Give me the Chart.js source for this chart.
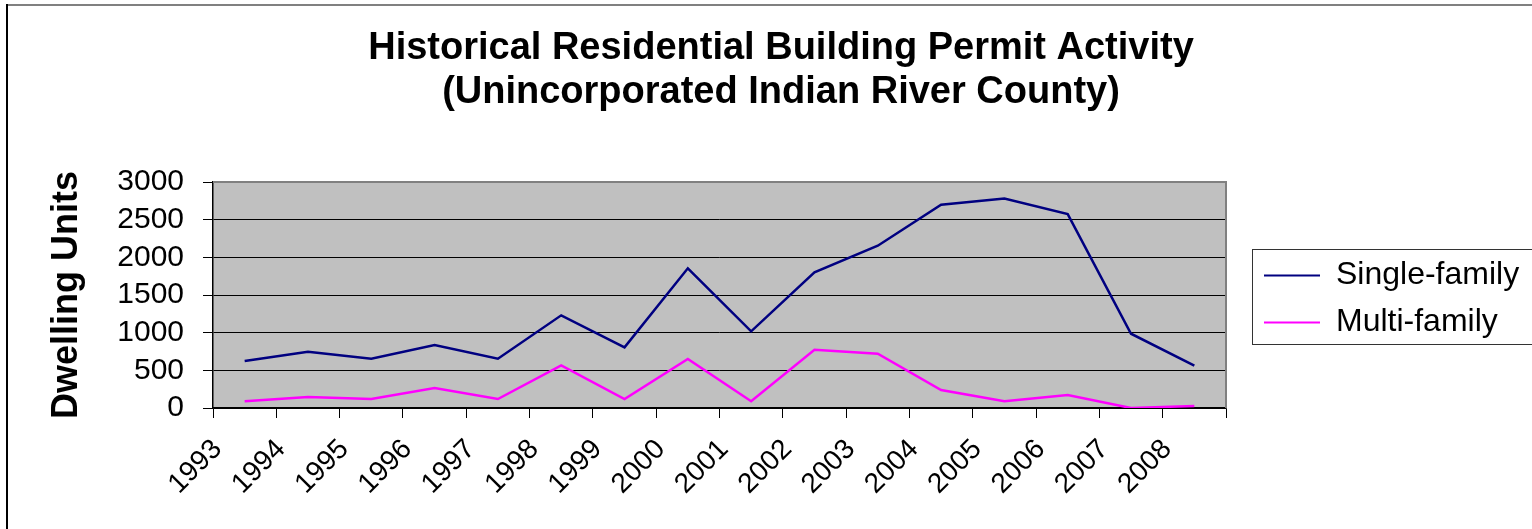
<!DOCTYPE html>
<html><head><meta charset="utf-8">
<script src="https://cdn.jsdelivr.net/npm/chart.js@4/dist/chart.umd.min.js"></script>
<style>html,body{margin:0;padding:0;background:#fff;overflow:hidden}#wrap{width:1532px;height:529px;position:relative}</style>
</head><body><div id="wrap"><canvas id="c" width="1532" height="529"></canvas></div>
<script>
const titleLines = ['Historical Residential Building Permit Activity', '(Unincorporated Indian River County)'];
const yAxisTitle = 'Dwelling Units';
const years = ['1993','1994','1995','1996','1997','1998','1999','2000','2001','2002','2003','2004','2005','2006','2007','2008'];
const singleFamily = [624, 747, 654, 836, 654, 1230, 805, 1854, 1018, 1800, 2154, 2698, 2782, 2574, 986, 561];
const multiFamily = [89, 146, 119, 265, 119, 566, 119, 650, 89, 774, 721, 239, 89, 172, 0, 27];
const seriesNames = ['Single-family', 'Multi-family'];
const yMin = 0, yMax = 3000, yStep = 500;

const FONT = '"Liberation Sans", Arial, Helvetica, sans-serif';

const decor = {
  id: 'decor',
  beforeLayout(chart) {
    const lg = chart.legend;
    if (lg && !lg._fixedW) {
      const f = lg.fit;
      lg.fit = function () { f.call(this); this.width = 283; };
      lg._fixedW = true;
    }
  },
  beforeDraw(chart) {
    const ctx = chart.ctx, a = chart.chartArea;
    ctx.save();
    ctx.fillStyle = '#fff';
    ctx.fillRect(0, 0, chart.width, chart.height);
    ctx.fillStyle = '#808080';
    ctx.fillRect(6, 4, chart.width, 2);
    ctx.fillStyle = '#000';
    ctx.fillRect(6, 4, 2, chart.height);
    ctx.fillStyle = '#C0C0C0';
    ctx.fillRect(a.left, a.top, a.right - a.left, a.bottom - a.top);
    ctx.restore();
  },
  beforeDatasetsDraw(chart) {
    const ctx = chart.ctx, a = chart.chartArea;
    ctx.save();
    ctx.strokeStyle = '#808080';
    ctx.lineWidth = 2;
    ctx.beginPath();
    ctx.moveTo(a.left, a.top);
    ctx.lineTo(a.right, a.top);
    ctx.lineTo(a.right, a.bottom);
    ctx.stroke();
    ctx.restore();
  },
  afterDraw(chart) {
    const lg = chart.legend;
    if (!lg || !lg.legendHitBoxes || !lg.legendHitBoxes.length) return;
    const hb = lg.legendHitBoxes;
    const first = hb[0], last = hb[hb.length - 1];
    const ctx = chart.ctx;
    const x = first.left - 12;
    const y = first.top + first.height / 2 - 27;
    const b = last.top + last.height / 2 + 21;
    ctx.save();
    ctx.strokeStyle = '#333';
    ctx.lineWidth = 1;
    ctx.strokeRect(Math.round(x) + 0.5, Math.round(y) + 0.5, chart.width + 20, Math.round(b - y));
    ctx.restore();
  }
};

new Chart(document.getElementById('c'), {
  type: 'line',
  data: {
    labels: years,
    datasets: [
      { label: seriesNames[0], data: singleFamily, borderColor: '#000080', backgroundColor: '#000080', borderWidth: 2.5, pointRadius: 0, tension: 0, yAxisID: 'y' },
      { label: seriesNames[1], data: multiFamily, borderColor: '#FF00FF', backgroundColor: '#FF00FF', borderWidth: 2.5, pointRadius: 0, tension: 0, yAxisID: 'y' }
    ]
  },
  options: {
    responsive: false,
    devicePixelRatio: 1,
    animation: false,
    events: [],
    layout: { padding: { left: 30, top: 0, right: 0, bottom: 0 } },
    plugins: {
      title: {
        display: true, text: titleLines, color: '#000',
        font: { family: FONT, size: 38, weight: 'bold', lineHeight: 1.158 },
        padding: { top: 27, bottom: 67 }
      },
      legend: {
        display: true, position: 'right', fullSize: false, align: 'center',
        title: { display: true, text: ' ', font: { size: 1, lineHeight: 1 }, padding: { top: 0, bottom: 7 } },
        labels: {
          color: '#000', boxWidth: 56, boxHeight: 2, padding: 15,
          font: { family: FONT, size: 32 },
          generateLabels(chart) {
            return Chart.defaults.plugins.legend.labels.generateLabels(chart).map(it => Object.assign(it, { lineWidth: 0 }));
          }
        }
      },
      tooltip: { enabled: false }
    },
    scales: {
      x: {
        type: 'category', offset: true,
        grid: { offset: true, drawOnChartArea: false, drawTicks: true, tickLength: 10, color: '#000', lineWidth: 1 },
        border: { display: true, color: '#000', width: 1.5 },
        ticks: { autoSkip: false, minRotation: 45, maxRotation: 45, padding: 15, labelOffset: -27, color: '#000', font: { family: FONT, size: 28 } },
        afterFit(s) { s.height = 121; }
      },
      y: {
        type: 'linear', position: 'left', min: yMin, max: yMax,
        ticks: { stepSize: yStep, autoSkip: false, padding: 19, color: '#000', font: { family: FONT, size: 30 }, callback: v => String(v) },
        grid: { color: '#000', lineWidth: 1, tickLength: 10, drawTicks: true },
        border: { display: true, color: '#000', width: 1.5 },
        title: { display: true, text: yAxisTitle, color: '#000', font: { family: FONT, size: 36, weight: 'bold', lineHeight: 1.2 }, padding: { top: 15, bottom: 0 } },
        afterFit(s) { s.width = 183; }
      },
      y2: {
        type: 'linear', position: 'right', display: true,
        grid: { display: false, drawTicks: false },
        ticks: { display: false },
        border: { display: false },
        afterFit(s) { s.width = 23; }
      }
    }
  },
  plugins: [decor]
});
</script>
</body></html>
